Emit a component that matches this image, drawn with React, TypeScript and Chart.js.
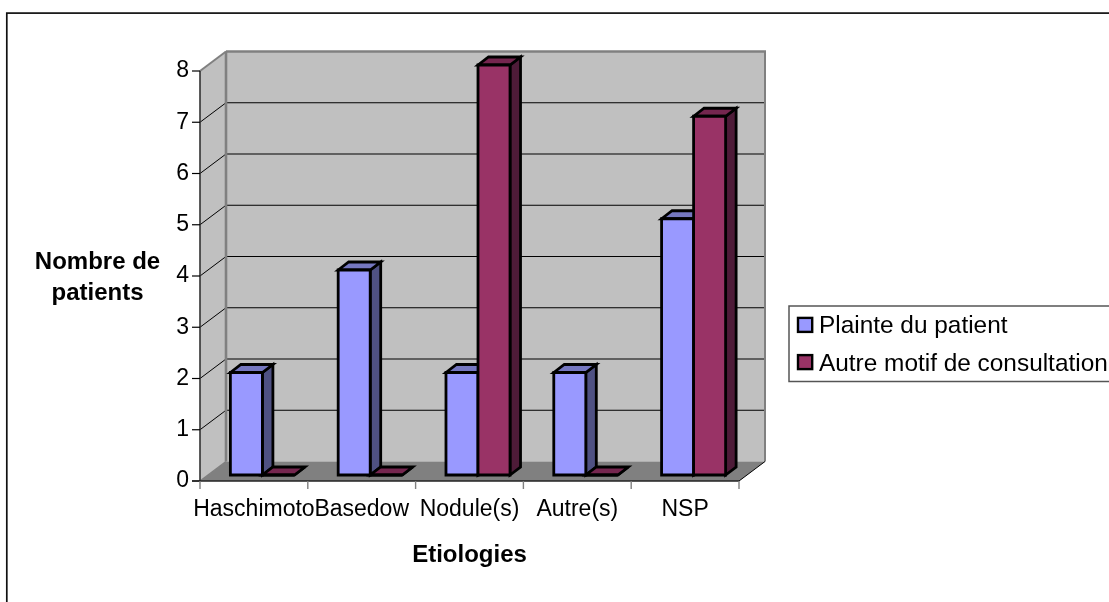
import React, { useEffect, useRef } from "react";
import { Chart, registerables } from "chart.js";

Chart.register(...registerables);

const categories = ["Haschimoto", "Basedow", "Nodule(s)", "Autre(s)", "NSP"];
const plainte = [2, 4, 2, 2, 5];
const autre = [0, 0, 8, 0, 7];
const seriesNames = ["Plainte du patient", "Autre motif de consultation"];
const yTitleLines = ["Nombre de", "patients"];
const xTitle = "Etiologies";

const FONT = "'Liberation Sans', Arial, sans-serif";
const WALL_DX = 26;
const WALL_DY = -19.5;
const BAR_SHIFT_X = 8.5;
const BAR_SHIFT_Y = -6;
const BAR_DX = 10.5;
const BAR_DY = -8;
const BAR_STROKE = 2.8;
const SIDE_COLORS = ["#4F5183", "#4E1B38"];
const TOP_COLORS = ["#7577C0", "#75264F"];

function poly(ctx: CanvasRenderingContext2D, pts: number[][], fill: string | null, stroke: string | null, lw = 1) {
  ctx.beginPath();
  pts.forEach((p, i) => (i ? ctx.lineTo(p[0], p[1]) : ctx.moveTo(p[0], p[1])));
  ctx.closePath();
  if (fill) {
    ctx.fillStyle = fill;
    ctx.fill();
  }
  if (stroke) {
    ctx.strokeStyle = stroke;
    ctx.lineWidth = lw;
    ctx.lineJoin = "miter";
    ctx.stroke();
  }
}

function seg(ctx: CanvasRenderingContext2D, x1: number, y1: number, x2: number, y2: number, color: string, lw: number) {
  ctx.beginPath();
  ctx.moveTo(x1, y1);
  ctx.lineTo(x2, y2);
  ctx.strokeStyle = color;
  ctx.lineWidth = lw;
  ctx.stroke();
}

const walls3d = {
  id: "walls3d",
  beforeDatasetsDraw(chart: any) {
    const { ctx, chartArea: a, scales } = chart;
    const y = scales.y;
    const x0 = a.left, x1 = a.right, top = a.top, bot = a.bottom;
    const dx = WALL_DX, dy = WALL_DY;
    ctx.save();
    // outer frame: its right and bottom edges lie beyond the picture
    ctx.strokeStyle = "#111";
    ctx.lineWidth = 1.7;
    ctx.strokeRect(6.8, 13.1, 1120, 620);
    // back wall + side wall + floor
    poly(ctx, [[x0 + dx, top + dy], [x1 + dx, top + dy], [x1 + dx, bot + dy], [x0 + dx, bot + dy]], "#C0C0C0", null);
    poly(ctx, [[x0, top], [x0 + dx, top + dy], [x0 + dx, bot + dy], [x0, bot]], "#C0C0C0", null);
    poly(ctx, [[x0, bot], [x0 + dx, bot + dy], [x1 + dx, bot + dy], [x1, bot]], "#808080", null);
    // gridlines
    y.ticks.forEach((t: any) => {
      if (t.value === 0 || t.value === 8) return;
      const py = y.getPixelForValue(t.value);
      seg(ctx, x0, py, x0 + dx, py + dy, "#000", 1);
      seg(ctx, x0 + dx, py + dy, x1 + dx, py + dy, "#000", 1.2);
    });
    // wall edges
    seg(ctx, x0 + dx, top + dy, x1 + dx + 1, top + dy, "#808080", 2.6);
    seg(ctx, x0 + dx, top + dy, x0 + dx, bot + dy, "#808080", 2.6);
    seg(ctx, x1 + dx, top + dy, x1 + dx, bot + dy, "#808080", 2);
    seg(ctx, x0, top, x0 + dx, top + dy, "#808080", 2);
    seg(ctx, x0, bot, x0 + dx, bot + dy, "#808080", 1.5);
    seg(ctx, x1, bot, x1 + dx, bot + dy, "#000", 1);
    // axis lines and ticks
    seg(ctx, x0, top, x0, bot, "#333", 1.6);
    y.ticks.forEach((t: any) => {
      const py = y.getPixelForValue(t.value);
      seg(ctx, x0 - 8, py, x0, py, "#000", 1.2);
    });
    seg(ctx, x0 - 8, bot, x1, bot, "#222", 1.4);
    const n = categories.length;
    for (let i = 0; i <= n; i++) {
      const px = x0 + ((x1 - x0) * i) / n;
      seg(ctx, px, bot, px, bot + 8, "#808080", 1.4);
    }
    ctx.restore();
  },
  // The default order paints the last series first; here the first series goes first.
  beforeDatasetDraw() {
    return false;
  },
  afterDatasetsDraw(chart: any) {
    const { ctx } = chart;
    ctx.save();
    ctx.translate(BAR_SHIFT_X, BAR_SHIFT_Y);
    chart.data.datasets.forEach((_: any, i: number) => {
      const meta = chart.getDatasetMeta(i);
      meta.data.forEach((b: any) => {
        const l = b.x - b.width / 2, r = b.x + b.width / 2, t = b.y, bo = b.base;
        poly(ctx, [[r, t], [r + BAR_DX, t + BAR_DY], [r + BAR_DX, bo + BAR_DY], [r, bo]], SIDE_COLORS[i], "#000", BAR_STROKE);
        poly(ctx, [[l, t], [l + BAR_DX, t + BAR_DY], [r + BAR_DX, t + BAR_DY], [r, t]], TOP_COLORS[i], "#000", BAR_STROKE);
      });
      meta.controller.draw();
      meta.data.forEach((b: any) => {
        const l = b.x - b.width / 2, r = b.x + b.width / 2;
        poly(ctx, [[l, b.y], [r, b.y], [r, b.base], [l, b.base]], null, "#000", BAR_STROKE);
      });
    });
    ctx.restore();
  },
  afterDraw(chart: any) {
    const { ctx } = chart;
    ctx.save();
    // y title
    ctx.fillStyle = "#000";
    ctx.font = `bold 24px ${FONT}`;
    ctx.textAlign = "center";
    ctx.textBaseline = "alphabetic";
    ctx.fillText(yTitleLines[0], 97.5, 269);
    ctx.fillText(yTitleLines[1], 97.5, 300);
    // legend: its right edge lies beyond the picture
    ctx.strokeStyle = "#555";
    ctx.lineWidth = 1.5;
    ctx.strokeRect(789, 306, 340, 75.5);
    chart.data.datasets.forEach((d: any, i: number) => {
      const y = 317.9 + i * 37.2;
      ctx.fillStyle = d.backgroundColor;
      ctx.fillRect(798, y, 14.2, 14);
      ctx.strokeStyle = "#000";
      ctx.lineWidth = 2.4;
      ctx.strokeRect(798, y, 14.2, 14);
      ctx.fillStyle = "#000";
      ctx.font = `24.4px ${FONT}`;
      ctx.textAlign = "left";
      ctx.fillText(d.label, 819, 333.3 + i * 38);
    });
    ctx.restore();
  },
};

export default function App() {
  const ref = useRef<HTMLCanvasElement>(null);
  useEffect(() => {
    const chart = new Chart(ref.current!, {
      type: "bar",
      data: {
        labels: categories,
        datasets: [
          { label: seriesNames[0], data: plainte, backgroundColor: "#9999FF", borderWidth: 0, clip: false },
          { label: seriesNames[1], data: autre, backgroundColor: "#993366", borderWidth: 0, clip: false },
        ],
      },
      options: {
        animation: false,
        responsive: false,
        layout: { padding: { left: 0, top: 71, right: 370, bottom: 0 } },
        datasets: { bar: { categoryPercentage: 0.594, barPercentage: 1 } },
        plugins: { legend: { display: false }, tooltip: { enabled: false } },
        scales: {
          x: {
            afterFit: (s: any) => { s.height = 121; },
            grid: { display: false },
            border: { display: false },
            ticks: {
              color: "#000",
              font: { family: FONT, size: 23 },
              padding: 7,
              maxRotation: 0,
              minRotation: 0,
              autoSkip: false,
            },
            title: {
              display: true,
              text: xTitle,
              color: "#000",
              font: { family: FONT, size: 24, weight: "bold" },
              padding: { top: 24, bottom: 32 },
            },
          },
          y: {
            min: 0,
            max: 8,
            afterFit: (s: any) => { s.width = 200; },
            grid: { display: false },
            border: { display: false },
            ticks: {
              stepSize: 1,
              color: "#000",
              font: { family: FONT, size: 23 },
              padding: 3,
            },
          },
        },
      },
      plugins: [walls3d],
    } as any);
    return () => chart.destroy();
  }, []);
  return (
    <canvas
      ref={ref}
      width={1109}
      height={602}
      style={{ position: "fixed", left: 0, top: 0, width: 1109, height: 602, display: "block" }}
    />
  );
}
